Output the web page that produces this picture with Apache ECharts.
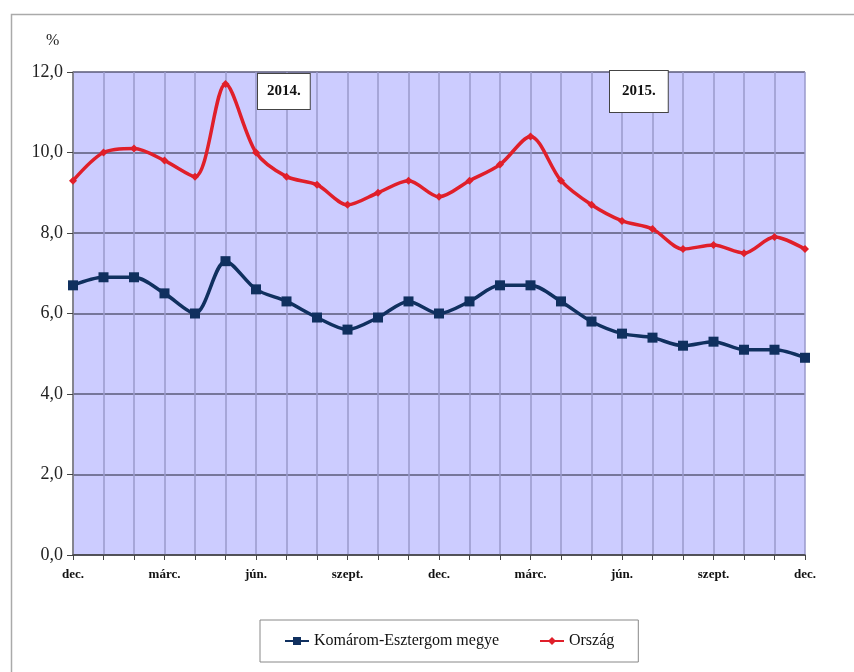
<!DOCTYPE html>
<html><head><meta charset="utf-8">
<script src="https://cdn.jsdelivr.net/npm/echarts@6/dist/echarts.min.js"></script>
<style>html,body{margin:0;padding:0;background:#fff}#c{width:854px;height:672px}</style>
</head><body><div id="c"></div>
<script>
const categories = ['dec.','jan.','febr.','márc.','ápr.','máj.','jún.','júl.','aug.','szept.','okt.','nov.','dec.','jan.','febr.','márc.','ápr.','máj.','jún.','júl.','aug.','szept.','okt.','nov.','dec.'];
const komarom = [6.7,6.9,6.9,6.5,6.0,7.3,6.6,6.3,5.9,5.6,5.9,6.3,6.0,6.3,6.7,6.7,6.3,5.8,5.5,5.4,5.2,5.3,5.1,5.1,4.9];
const orszag  = [9.3,10.0,10.1,9.8,9.4,11.7,10.0,9.4,9.2,8.7,9.0,9.3,8.9,9.3,9.7,10.4,9.3,8.7,8.3,8.1,7.6,7.7,7.5,7.9,7.6];
const yTicks = [0,2,4,6,8,10,12];
const seriesNames = ['Komárom-Esztergom megye','Ország'];
const yearLabels = ['2014.','2015.'];

const chart = echarts.init(document.getElementById('c'));
const serif = '"Liberation Serif","Times New Roman",serif';
chart.setOption({
  animation:false,
  backgroundColor:'#fff',
  grid:{left:73,right:49,top:72,bottom:117,show:true,backgroundColor:'#ccccff',borderWidth:0},
  xAxis:{type:'category',data:categories,boundaryGap:false,
    axisLine:{lineStyle:{color:'#444',width:1.5}},
    axisTick:{show:true,interval:0,length:5,lineStyle:{color:'#444'}},
    axisLabel:{interval:2,color:'#111',fontFamily:serif,fontSize:13,fontWeight:'bold',margin:13},
    splitLine:{show:true,interval:0,lineStyle:{color:'#9a9acb',width:1.5}}},
  yAxis:{type:'value',min:yTicks[0],max:yTicks[yTicks.length-1],interval:2,
    axisLine:{show:true,lineStyle:{color:'#777',width:1.5}},
    axisTick:{show:true,length:6,lineStyle:{color:'#444'}},
    axisLabel:{color:'#222',fontFamily:serif,fontSize:18,margin:10,
      formatter:(v)=>v.toFixed(1).replace('.',',')},
    splitLine:{lineStyle:{color:'#5a5a78',width:1.5}}},
  legend:{bottom:10,left:260,itemGap:40,padding:[13,24,13,24],
    borderColor:'#888',borderWidth:1,backgroundColor:'#fff',
    itemWidth:24,itemHeight:10,
    textStyle:{fontFamily:serif,fontSize:16,color:'#111'},
    data:seriesNames},
  series:[
    {name:seriesNames[0],type:'line',data:komarom,smooth:0.3,symbol:'rect',symbolSize:10,
      lineStyle:{color:'#10305f',width:3.5},itemStyle:{color:'#10305f'}},
    {name:seriesNames[1],type:'line',data:orszag,smooth:0.3,symbol:'diamond',symbolSize:8,
      lineStyle:{color:'#e01f2a',width:3.5},itemStyle:{color:'#e01f2a'}}
  ],
  graphic:[
    {type:'rect',left:9,top:12,shape:{width:900,height:700},style:{fill:null,stroke:'#aaa',lineWidth:1.5},z:-1},
    {type:'text',left:46,top:33,style:{text:'%',font:'16px '+serif,fill:'#222'}},
    {type:'text',left:257,top:73,style:{text:yearLabels[0],font:'bold 15px '+serif,fill:'#111',
      backgroundColor:'#fff',borderColor:'#444',borderWidth:1,padding:[10,9,10,9]},z:10},
    {type:'text',left:609,top:70,style:{text:yearLabels[1],font:'bold 15px '+serif,fill:'#111',
      backgroundColor:'#fff',borderColor:'#444',borderWidth:1,padding:[13,12,13,12]},z:10}
  ]
});
</script></body></html>
